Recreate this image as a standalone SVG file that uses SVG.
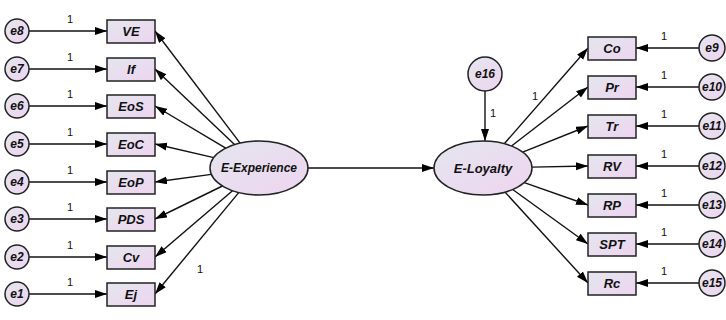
<svg xmlns="http://www.w3.org/2000/svg" width="726" height="320" viewBox="0 0 726 320">
<defs>
<linearGradient id="g" x1="0" y1="0" x2="1" y2="1">
<stop offset="0" stop-color="#e4e6ee"/>
<stop offset="1" stop-color="#eed4f0"/>
</linearGradient>
<marker id="ah" markerUnits="userSpaceOnUse" markerWidth="13" markerHeight="9" refX="12" refY="4" orient="auto">
<path d="M0,0 L12,4 L0,8 z" fill="#000"/>
</marker>
</defs>
<style>
.n{fill:url(#g);stroke:#222;stroke-width:1.5}
.t{font-family:"Liberation Sans",Arial,sans-serif;font-weight:bold;font-style:italic;font-size:13px;text-anchor:middle;dominant-baseline:central;fill:#111}
.e{font-family:"Liberation Sans",Arial,sans-serif;font-weight:bold;font-style:italic;font-size:12px;text-anchor:middle;dominant-baseline:central;fill:#111}
.w{font-family:"Liberation Sans",Arial,sans-serif;font-size:11px;text-anchor:middle;fill:#111}
#c line{stroke:#111;stroke-width:1.4;marker-end:url(#ah)}
</style>
<g id="c">
<line x1="29" y1="31" x2="107" y2="31"/>
<line x1="29" y1="69" x2="107" y2="69"/>
<line x1="29" y1="106" x2="107" y2="106"/>
<line x1="29" y1="144" x2="107" y2="144"/>
<line x1="29" y1="182" x2="107" y2="182"/>
<line x1="29" y1="219" x2="107" y2="219"/>
<line x1="29" y1="257" x2="107" y2="257"/>
<line x1="29" y1="294" x2="107" y2="294"/>
<line x1="240.1" y1="143.1" x2="155" y2="31"/>
<line x1="234.5" y1="144.6" x2="155" y2="69"/>
<line x1="225.7" y1="148.2" x2="155" y2="106"/>
<line x1="213.8" y1="157.6" x2="155" y2="144"/>
<line x1="211.4" y1="174.4" x2="155" y2="182"/>
<line x1="222.4" y1="186" x2="155" y2="219"/>
<line x1="232.5" y1="190.7" x2="155" y2="257"/>
<line x1="238.7" y1="192.6" x2="155" y2="294"/>
<line x1="308" y1="168" x2="434" y2="168"/>
<line x1="485" y1="91" x2="485" y2="141"/>
<line x1="504.3" y1="143.7" x2="588" y2="48"/>
<line x1="511.5" y1="146" x2="588" y2="87"/>
<line x1="522.7" y1="152.1" x2="588" y2="126"/>
<line x1="532" y1="167.1" x2="588" y2="166"/>
<line x1="524.3" y1="182.6" x2="588" y2="205"/>
<line x1="512.7" y1="189.5" x2="588" y2="244"/>
<line x1="505" y1="192.1" x2="588" y2="283"/>
<line x1="699" y1="48" x2="636" y2="48"/>
<line x1="699" y1="87" x2="636" y2="87"/>
<line x1="699" y1="126" x2="636" y2="126"/>
<line x1="699" y1="166" x2="636" y2="166"/>
<line x1="699" y1="205" x2="636" y2="205"/>
<line x1="699" y1="244" x2="636" y2="244"/>
<line x1="699" y1="283" x2="636" y2="283"/>
</g>
<g id="w">
<text class="w" x="70" y="23">1</text>
<text class="w" x="70" y="61">1</text>
<text class="w" x="70" y="98">1</text>
<text class="w" x="70" y="136">1</text>
<text class="w" x="70" y="174">1</text>
<text class="w" x="70" y="211">1</text>
<text class="w" x="70" y="249">1</text>
<text class="w" x="70" y="286">1</text>
<text class="w" x="200" y="273">1</text>
<text class="w" x="493" y="117">1</text>
<text class="w" x="535" y="100">1</text>
<text class="w" x="664" y="40">1</text>
<text class="w" x="664" y="79">1</text>
<text class="w" x="664" y="118">1</text>
<text class="w" x="664" y="158">1</text>
<text class="w" x="664" y="197">1</text>
<text class="w" x="664" y="236">1</text>
<text class="w" x="664" y="275">1</text>
</g>
<g id="e8"><circle class="n" cx="17" cy="31" r="12"/><text class="e" x="17" y="31">e8</text></g>
<g id="e7"><circle class="n" cx="17" cy="69" r="12"/><text class="e" x="17" y="69">e7</text></g>
<g id="e6"><circle class="n" cx="17" cy="106" r="12"/><text class="e" x="17" y="106">e6</text></g>
<g id="e5"><circle class="n" cx="17" cy="144" r="12"/><text class="e" x="17" y="144">e5</text></g>
<g id="e4"><circle class="n" cx="17" cy="182" r="12"/><text class="e" x="17" y="182">e4</text></g>
<g id="e3"><circle class="n" cx="17" cy="219" r="12"/><text class="e" x="17" y="219">e3</text></g>
<g id="e2"><circle class="n" cx="17" cy="257" r="12"/><text class="e" x="17" y="257">e2</text></g>
<g id="e1"><circle class="n" cx="17" cy="294" r="12"/><text class="e" x="17" y="294">e1</text></g>
<g id="VE"><rect class="n" x="107" y="20" width="48" height="23"/><text class="t" x="131" y="31.5">VE</text></g>
<g id="If"><rect class="n" x="107" y="58" width="48" height="23"/><text class="t" x="131" y="69.5">If</text></g>
<g id="EoS"><rect class="n" x="107" y="95" width="48" height="23"/><text class="t" x="131" y="106.5">EoS</text></g>
<g id="EoC"><rect class="n" x="107" y="133" width="48" height="23"/><text class="t" x="131" y="144.5">EoC</text></g>
<g id="EoP"><rect class="n" x="107" y="171" width="48" height="23"/><text class="t" x="131" y="182.5">EoP</text></g>
<g id="PDS"><rect class="n" x="107" y="208" width="48" height="23"/><text class="t" x="131" y="219.5">PDS</text></g>
<g id="Cv"><rect class="n" x="107" y="246" width="48" height="23"/><text class="t" x="131" y="257.5">Cv</text></g>
<g id="Ej"><rect class="n" x="107" y="283" width="48" height="23"/><text class="t" x="131" y="294.5">Ej</text></g>
<g id="EExperience"><ellipse class="n" cx="259" cy="168" rx="49" ry="27"/><text class="e" x="259" y="168">E-Experience</text></g>
<g id="ELoyalty"><ellipse class="n" cx="483" cy="168" rx="49" ry="27"/><text class="t" x="483" y="168">E-Loyalty</text></g>
<g id="e16"><circle class="n" cx="485" cy="74" r="17"/><text class="e" x="485" y="74">e16</text></g>
<g id="Co"><rect class="n" x="588" y="37" width="48" height="23"/><text class="t" x="612" y="48.5">Co</text></g>
<g id="Pr"><rect class="n" x="588" y="76" width="48" height="23"/><text class="t" x="612" y="87.5">Pr</text></g>
<g id="Tr"><rect class="n" x="588" y="115" width="48" height="23"/><text class="t" x="612" y="126.5">Tr</text></g>
<g id="RV"><rect class="n" x="588" y="155" width="48" height="23"/><text class="t" x="612" y="166.5">RV</text></g>
<g id="RP"><rect class="n" x="588" y="194" width="48" height="23"/><text class="t" x="612" y="205.5">RP</text></g>
<g id="SPT"><rect class="n" x="588" y="233" width="48" height="23"/><text class="t" x="612" y="244.5">SPT</text></g>
<g id="Rc"><rect class="n" x="588" y="272" width="48" height="23"/><text class="t" x="612" y="283.5">Rc</text></g>
<g id="e9"><circle class="n" cx="712" cy="48" r="13"/><text class="e" x="712" y="48">e9</text></g>
<g id="e10"><circle class="n" cx="712" cy="87" r="13"/><text class="e" x="712" y="87">e10</text></g>
<g id="e11"><circle class="n" cx="712" cy="126" r="13"/><text class="e" x="712" y="126">e11</text></g>
<g id="e12"><circle class="n" cx="712" cy="166" r="13"/><text class="e" x="712" y="166">e12</text></g>
<g id="e13"><circle class="n" cx="712" cy="205" r="13"/><text class="e" x="712" y="205">e13</text></g>
<g id="e14"><circle class="n" cx="712" cy="244" r="13"/><text class="e" x="712" y="244">e14</text></g>
<g id="e15"><circle class="n" cx="712" cy="283" r="13"/><text class="e" x="712" y="283">e15</text></g>
</svg>
